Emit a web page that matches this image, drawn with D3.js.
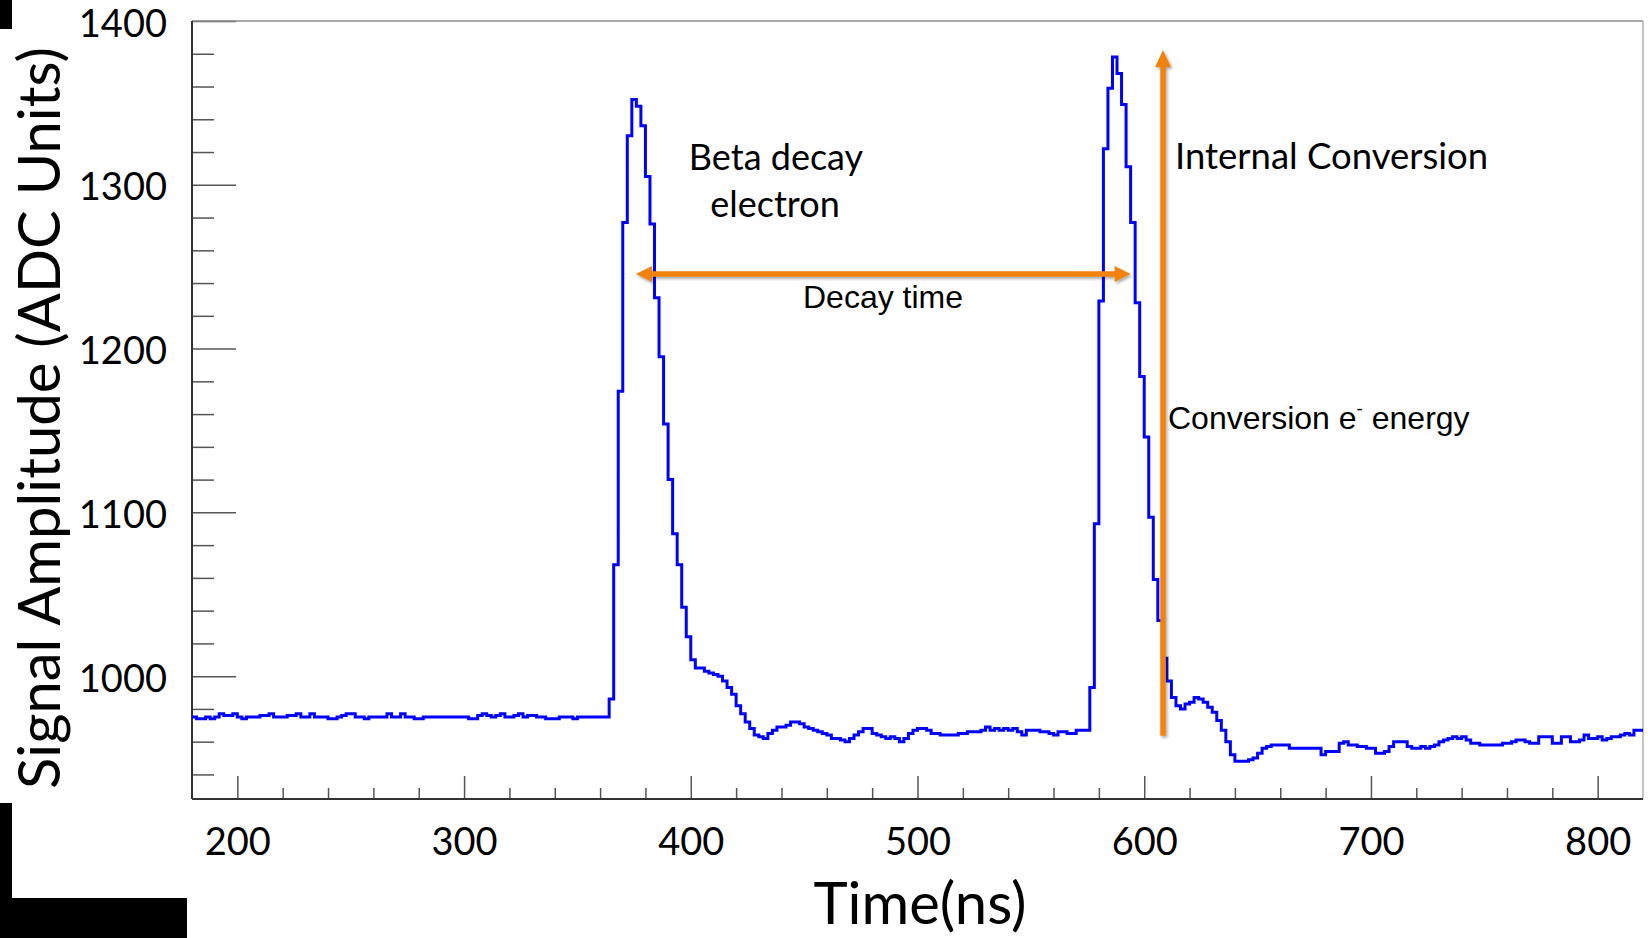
<!DOCTYPE html>
<html>
<head>
<meta charset="utf-8">
<script src="https://cdn.jsdelivr.net/npm/d3@7"></script>
<style>
body { margin: 0; background: #fff; }
</style>
</head>
<body>
<script>

// histogram: 2 ns bins from 180 ns to 820 ns, ADC counts per bin
var binStart = 180;
var binWidth = 2;
var amplitude = [
    975,974,974,975,974,975,977,976,976,977,   // 180
    975,974,975,975,975,976,976,977,975,975,   // 200
    975,976,976,977,975,975,977,975,975,975,   // 220
    974,974,975,976,977,977,975,975,974,975,   // 240
    975,975,975,977,975,975,977,975,975,974,   // 260
    974,975,975,975,975,975,975,975,975,975,   // 280
    975,974,974,976,977,976,975,976,977,975,   // 300
    975,976,977,975,976,976,975,975,974,974,   // 320
    974,975,975,975,974,975,975,975,975,975,   // 340
    975,975,986,1068,1174,1277,1330,1352,1348,1336,   // 360
    1305,1276,1231,1195,1154,1120,1087,1068,1042,1024, // 380
    1010,1005,1005,1003,1002,1001,1000,997,993,989,    // 400
    982,977,972,968,964,963,962,965,967,969,   // 420
    969,970,972,972,971,969,968,967,966,965,   // 440
    964,962,962,961,960,962,964,966,968,968,   // 460
    965,964,963,962,963,962,960,962,965,967,   // 480
    968,968,967,965,965,964,964,964,964,965,   // 500
    965,966,966,966,967,969,967,968,967,968,   // 520
    967,968,966,964,967,967,967,966,966,965,   // 540
    964,966,966,965,965,967,967,967,993,1093,  // 560
    1229,1322,1359,1378,1368,1349,1311,1277,1228,1183, // 580
    1146,1097,1059,1034,1011,997,987,982,980,983,      // 600
    984,987,986,984,981,978,973,967,960,952,   // 620
    948,948,948,949,950,953,956,957,958,958,   // 640
    958,958,956,956,956,956,956,956,956,952,   // 660
    954,954,954,959,960,958,958,957,957,956,   // 680
    956,953,953,954,957,960,960,960,957,956,   // 700
    956,957,956,957,958,960,961,962,963,962,   // 720
    963,961,959,959,958,958,958,958,958,959,   // 740
    959,960,961,961,960,959,959,963,963,963,   // 760
    959,959,963,963,960,960,961,964,962,962,   // 780
    963,961,962,963,963,964,965,964,967,967    // 800
];

var xDomain = [180, 820];
var yDomain = [925, 1400];
var xMajorTicks = [200, 300, 400, 500, 600, 700, 800];
var yMajorTicks = [1000, 1100, 1200, 1300, 1400];

// annotation arrows, in data units (ns, ADC)
var decayArrow = {t0: 375.8, t1: 594, v: 1245.5};
var conversionArrow = {t: 608.3, v0: 963.6, v1: 1382.3};

var xTitle = "Time(ns)";
var yTitle = "Signal Amplitude (ADC Units)";

var W = 1648, H = 938;
var plot = {left: 192, right: 1643, top: 21, bottom: 799};
var orange = "#f0820f";

var svg = d3.select("body").append("svg")
    .attr("width", W)
    .attr("height", H);

var defs = svg.append("defs");
defs.append("clipPath").attr("id", "plotClip")
    .append("rect")
    .attr("x", plot.left).attr("y", plot.top)
    .attr("width", plot.right - plot.left).attr("height", plot.bottom - plot.top);
defs.append("filter").attr("id", "shadow")
    .attr("x", "-20%").attr("y", "-20%").attr("width", "140%").attr("height", "140%")
    .append("feDropShadow")
    .attr("dx", 1.5).attr("dy", 2).attr("stdDeviation", 1.5)
    .attr("flood-color", "#000").attr("flood-opacity", 0.35);

var x = d3.scaleLinear().domain(xDomain).range([plot.left, plot.right]);
var y = d3.scaleLinear().domain(yDomain).range([plot.bottom, plot.top]);

var xMinorTicks = d3.range(200, 820, 20).filter(d => d % 100 != 0);
var yMinorTicks = d3.range(940, 1400, 20).filter(d => d % 100 != 0);

function styleAxis(g) {
    g.select(".domain").remove();
    g.selectAll(".tick line").attr("stroke", "#555").attr("stroke-width", 1.5);
    g.selectAll(".tick text").attr("fill", "#000");
    g.attr("font-family", "Lato, sans-serif").attr("font-size", 38);
}

// x axis, ticks pointing up into the frame
svg.append("g")
    .attr("transform", "translate(0," + plot.bottom + ")")
    .call(d3.axisBottom(x).tickValues(xMinorTicks).tickSizeInner(-11).tickSizeOuter(0).tickFormat(""))
    .call(styleAxis);
svg.append("g")
    .attr("transform", "translate(0," + plot.bottom + ")")
    .call(d3.axisBottom(x).tickValues(xMajorTicks).tickSizeInner(-23).tickSizeOuter(0)
        .tickPadding(29).tickFormat(d3.format("d")))
    .call(styleAxis);

// y axis, ticks pointing right
svg.append("g")
    .attr("transform", "translate(" + plot.left + ",0)")
    .call(d3.axisLeft(y).tickValues(yMinorTicks).tickSizeInner(-22).tickSizeOuter(0).tickFormat(""))
    .call(styleAxis);
svg.append("g")
    .attr("transform", "translate(" + plot.left + ",0)")
    .call(d3.axisLeft(y).tickValues(yMajorTicks).tickSizeInner(-44).tickSizeOuter(0)
        .tickPadding(25).tickFormat(d3.format("d")))
    .call(styleAxis)
    .selectAll(".tick text").attr("dy", "0.4em");

// frame
svg.append("line").attr("x1", plot.left).attr("x2", plot.right).attr("y1", plot.top).attr("y2", plot.top)
    .attr("stroke", "#8c8c8c").attr("stroke-width", 1.5);
svg.append("line").attr("x1", plot.right).attr("x2", plot.right).attr("y1", plot.top).attr("y2", plot.bottom)
    .attr("stroke", "#b0b0b0").attr("stroke-width", 1.5);
svg.append("line").attr("x1", plot.left).attr("x2", plot.left).attr("y1", plot.top).attr("y2", plot.bottom)
    .attr("stroke", "#333").attr("stroke-width", 2);
svg.append("line").attr("x1", plot.left).attr("x2", plot.right).attr("y1", plot.bottom).attr("y2", plot.bottom)
    .attr("stroke", "#333").attr("stroke-width", 2);

// histogram as a step line
var points = amplitude.map((v, i) => [binStart + i * binWidth, v]);
points.push([binStart + amplitude.length * binWidth, amplitude[amplitude.length - 1]]);

var stepLine = d3.line()
    .x(d => x(d[0]))
    .y(d => y(d[1]))
    .curve(d3.curveStepAfter);

svg.append("path")
    .datum(points)
    .attr("clip-path", "url(#plotClip)")
    .attr("d", stepLine)
    .attr("fill", "none")
    .attr("stroke", "#0000ff")
    .attr("stroke-width", 3)
    .attr("stroke-linejoin", "miter");

// arrows
function arrowHead(g, tipX, tipY, dx, dy, len, half) {
    // dx,dy: unit direction the head points to
    var bx = tipX - dx * len, by = tipY - dy * len;
    var px = -dy * half, py = dx * half;
    g.append("path")
        .attr("d", "M" + tipX + "," + tipY + "L" + (bx + px) + "," + (by + py) + "L" + (bx - px) + "," + (by - py) + "Z")
        .attr("fill", orange);
}

var arrows = svg.append("g").attr("filter", "url(#shadow)");

var ax0 = x(decayArrow.t0), ax1 = x(decayArrow.t1), ay = y(decayArrow.v);
arrows.append("line")
    .attr("x1", ax0 + 14).attr("x2", ax1 - 14).attr("y1", ay).attr("y2", ay)
    .attr("stroke", orange).attr("stroke-width", 5.5);
arrowHead(arrows, ax0, ay, -1, 0, 16, 8);
arrowHead(arrows, ax1, ay, 1, 0, 16, 8);

var cx = x(conversionArrow.t), cy0 = y(conversionArrow.v0), cy1 = y(conversionArrow.v1);
arrows.append("line")
    .attr("x1", cx).attr("x2", cx).attr("y1", cy0).attr("y2", cy1 + 14)
    .attr("stroke", orange).attr("stroke-width", 5.5);
arrowHead(arrows, cx, cy1, 0, -1, 17, 8);

// text annotations
var calibriLike = "Lato, sans-serif";
var arialLike = "'Liberation Sans', Arial, sans-serif";

svg.append("text").attr("x", 776).attr("y", 170).attr("text-anchor", "middle")
    .attr("font-family", calibriLike).attr("font-size", 36).text("Beta decay");
svg.append("text").attr("x", 775).attr("y", 217).attr("text-anchor", "middle")
    .attr("font-family", calibriLike).attr("font-size", 36).text("electron");
svg.append("text").attr("x", 1175).attr("y", 169)
    .attr("font-family", calibriLike).attr("font-size", 36.5).text("Internal Conversion");
svg.append("text").attr("x", 883).attr("y", 308).attr("text-anchor", "middle")
    .attr("font-family", arialLike).attr("font-size", 32).text("Decay time");

var conv = svg.append("text").attr("x", 1168).attr("y", 429)
    .attr("font-family", arialLike).attr("font-size", 32);
conv.append("tspan").text("Conversion e");
conv.append("tspan").attr("font-size", 19).attr("dy", -14).text("-");
conv.append("tspan").attr("dy", 14).text(" energy");

// axis titles
svg.append("text")
    .attr("transform", "translate(60,418) rotate(-90)")
    .attr("text-anchor", "middle")
    .attr("font-family", calibriLike).attr("font-size", 58)
    .text(yTitle);
svg.append("text")
    .attr("x", 920).attr("y", 924)
    .attr("text-anchor", "middle")
    .attr("font-family", calibriLike).attr("font-size", 58)
    .text(xTitle);

// black crop marks at the left edge of the original slide
svg.append("rect").attr("x", 0).attr("y", 0).attr("width", 12).attr("height", 29).attr("fill", "#000");
svg.append("rect").attr("x", 0).attr("y", 803).attr("width", 12).attr("height", H - 803).attr("fill", "#000");
svg.append("rect").attr("x", 0).attr("y", 898).attr("width", 187).attr("height", H - 898).attr("fill", "#000");

</script>
</body>
</html>
